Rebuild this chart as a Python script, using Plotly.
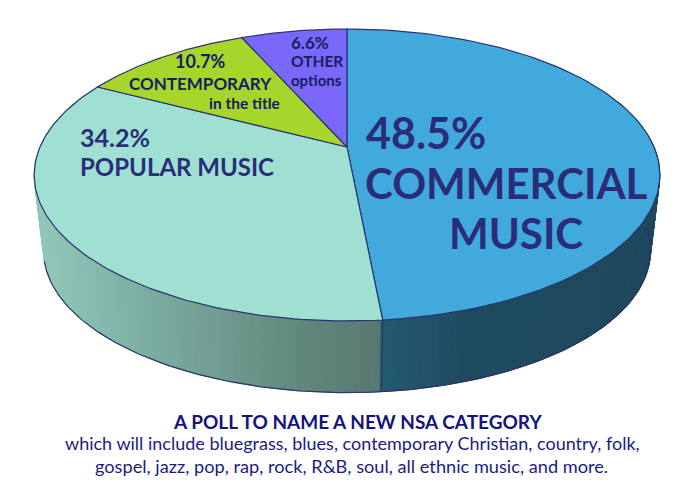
import numpy as np
import plotly.graph_objects as go

# --- data ---
categories = ["COMMERCIAL MUSIC", "POPULAR MUSIC", "CONTEMPORARY in the title", "OTHER options"]
percent = [48.5, 34.2, 10.7, 6.6]
top_colors = ["#42a9dc", "#9fe0d3", "#a6d52c", "#7a68fa"]

title_lines = [
    "A POLL TO NAME A NEW NSA CATEGORY",
    "which will include bluegrass, blues, contemporary Christian, country, folk,",
    "gospel, jazz, pop, rap, rock, R&B, soul, all ethnic music, and more.",
]

# --- pie geometry: a circle seen in perspective, in pixels of the picture ---
CX, CY = 347, 147
K = 0.1918
A = -112.4
B = 307
# the base is the same ellipse, a bit smaller and lower
ELL_Y, BASE_Y, BASE_SCALE = 175, 251, 0.97
FONT = "Lato"
NAVY = "#2a3470"
# the page keeps its 8px body margin, so the plot starts 8px in
PAGE_MARGIN = 8


def top_xy(deg):
    t = np.radians(deg)
    u, v = np.sin(t), np.cos(t)
    w = 1 + K * v
    return CX + B * u / w, (CY + A * v) / w


def base_xy(deg):
    x, y = top_xy(deg)
    return CX + (x - CX) * BASE_SCALE, BASE_Y + (y - ELL_Y) * BASE_SCALE


def mix(stops, f):
    # stops are (position, rgb)
    pos = [s[0] for s in stops]
    rgb = [np.interp(f, pos, [s[1][i] for s in stops]) for i in range(3)]
    return "rgb(%d,%d,%d)" % tuple(rgb)


# side colours change from left to right with x
side_stops = [
    [(35, (146, 200, 186)), (150, (124, 172, 160)), (300, (98, 136, 126)), (383, (88, 120, 112))],
    [(383, (36, 90, 112)), (470, (31, 75, 96)), (660, (30, 72, 92))],
]

edges = np.cumsum([0] + percent) * 3.6
fig = go.Figure()

# side wall, back to front, only the front half of the two big slices shows
for deg in np.arange(70, 290, 1.0):
    x1, y1 = top_xy(deg)
    x2, y2 = top_xy(deg + 1.0)
    x3, y3 = base_xy(deg + 1.0)
    x4, y4 = base_xy(deg)
    stops = side_stops[0] if deg + 0.5 > edges[1] else side_stops[1]
    col = mix(stops, (x1 + x2) / 2)
    fig.add_trace(go.Scatter(
        x=[x1, x2, x3, x4, x1], y=[y1, y2, y3, y4, y1], mode="lines",
        fill="toself", fillcolor=col, line=dict(color=col, width=1),
        hoverinfo="skip", showlegend=False,
    ))

# base outline and the divider on the wall
arc = np.linspace(92, 255, 200)
bx, by = base_xy(arc)
fig.add_trace(go.Scatter(x=bx, y=by, mode="lines", line=dict(color=NAVY, width=1.2),
                         hoverinfo="skip", showlegend=False))
dx = [top_xy(edges[1])[0], base_xy(edges[1])[0]]
dy = [top_xy(edges[1])[1], base_xy(edges[1])[1]]
fig.add_trace(go.Scatter(x=dx, y=dy, mode="lines", line=dict(color=NAVY, width=1),
                         hoverinfo="skip", showlegend=False))

# top face
for i, name in enumerate(categories):
    arc = np.linspace(edges[i], edges[i + 1], 120)
    ax, ay = top_xy(arc)
    fig.add_trace(go.Scatter(
        x=np.r_[CX, ax, CX], y=np.r_[CY, ay, CY], mode="lines", fill="toself",
        fillcolor=top_colors[i], line=dict(color=NAVY, width=1.2),
        name=name, hoverinfo="name", showlegend=False,
    ))


def label(text, x, y, size, color, anchor="left", bold=True):
    fig.add_annotation(
        x=x, y=y, xref="x", yref="y", text="<b>%s</b>" % text if bold else text,
        showarrow=False, xanchor=anchor, yanchor="middle", align=anchor,
        font=dict(family=FONT, size=size, color=color), borderpad=0,
    )


BIG = "#2a2e78"
SMALL = "#16205f"
label("%.1f%%" % percent[0], 365, 132, 43, BIG)
label("COMMERCIAL", 364, 183, 42, BIG)
label("MUSIC", 516, 233, 42, BIG, "center")
label("%.1f%%" % percent[1], 79, 137, 25, BIG)
label("POPULAR MUSIC", 79, 166, 24, BIG)
label("%.1f%%" % percent[2], 200, 61, 18, SMALL, "center")
label("CONTEMPORARY", 200, 83, 17, SMALL, "center")
label("in the title", 281, 103, 15.5, SMALL, "right")
label("%.1f%%" % percent[3], 290, 42, 17, SMALL)
label("OTHER", 290, 61, 15.5, SMALL)
label("options", 290, 80, 15, SMALL)

label(title_lines[0], 357, 421, 19, "#14147a", "center")
label(title_lines[1], 352, 443, 18, "#1c1c80", "center", bold=False)
label(title_lines[2], 351, 466, 18.2, "#1c1c80", "center", bold=False)

fig.update_layout(
    width=699 - 2 * PAGE_MARGIN, height=499 - 2 * PAGE_MARGIN, margin=dict(l=0, r=0, t=0, b=0),
    paper_bgcolor="white", plot_bgcolor="white", showlegend=False,
    xaxis=dict(range=[PAGE_MARGIN, 699 - PAGE_MARGIN], visible=False, fixedrange=True),
    yaxis=dict(range=[499 - PAGE_MARGIN, PAGE_MARGIN], visible=False, fixedrange=True),
)

fig.write_html("out.html", config={"displayModeBar": False})
